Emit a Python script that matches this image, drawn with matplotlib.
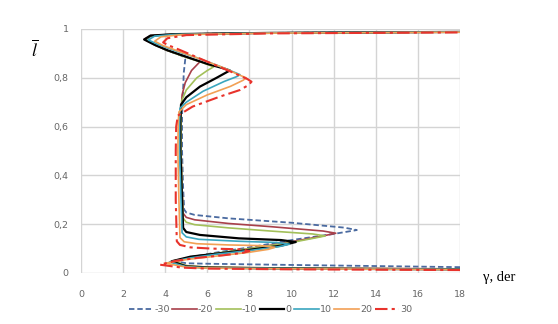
import matplotlib
matplotlib.use("Agg")
import matplotlib.pyplot as plt

# ---- data (gamma, l-bar) traced bottom -> top for each angle ----
labels = ["-30", "-20", "-10", "0", "10", "20", "30"]

g_m30 = [18, 10, 6, 5, 4.5, 5.2, 6.5, 8, 10, 12, 13.1, 12.5, 10, 7, 5.4, 5.0, 4.9, 4.85, 4.8, 4.8, 4.85, 4.88, 4.95, 4.8, 4.1, 3.5, 3.1, 3.35, 4.5, 9, 18]
l_m30 = [0.024, 0.033, 0.038, 0.04, 0.048, 0.065, 0.085, 0.105, 0.135, 0.16, 0.176, 0.186, 0.206, 0.224, 0.238, 0.248, 0.26, 0.35, 0.5, 0.65, 0.75, 0.82, 0.875, 0.89, 0.912, 0.935, 0.957, 0.973, 0.979, 0.984, 0.988]

g_m20 = [18, 10, 6, 5, 4.35, 5.2, 6.5, 8, 10, 11.5, 12.1, 11.5, 9, 7, 5.4, 5.0, 4.85, 4.8, 4.75, 4.75, 4.8, 4.95, 5.25, 5.65, 5.2, 4.1, 3.5, 3.0, 3.3, 4.5, 9, 18]
l_m20 = [0.017, 0.02, 0.024, 0.03, 0.045, 0.062, 0.08, 0.1, 0.128, 0.152, 0.163, 0.172, 0.19, 0.203, 0.218, 0.228, 0.245, 0.35, 0.5, 0.65, 0.73, 0.78, 0.83, 0.866, 0.88, 0.912, 0.935, 0.958, 0.973, 0.979, 0.984, 0.988]

g_m10 = [18, 10, 6, 5, 4.4, 5.2, 6.5, 8, 10, 11.2, 11.6, 11, 9, 7, 5.4, 5.0, 4.85, 4.8, 4.75, 4.75, 4.8, 5.0, 5.5, 6.0, 6.3, 5.65, 4.95, 4.1, 3.5, 3.05, 3.3, 4.5, 9, 18]
l_m10 = [0.016, 0.02, 0.024, 0.03, 0.05, 0.065, 0.082, 0.1, 0.125, 0.145, 0.152, 0.16, 0.172, 0.185, 0.198, 0.208, 0.225, 0.35, 0.5, 0.65, 0.71, 0.75, 0.8, 0.83, 0.845, 0.866, 0.885, 0.912, 0.935, 0.957, 0.972, 0.979, 0.984, 0.988]

g_0 = [18, 10, 6, 5, 4.3, 5.2, 6.5, 8, 9.5, 10.2, 9.5, 7.5, 5.65, 5.0, 4.85, 4.8, 4.72, 4.72, 4.75, 5.0, 5.65, 6.44, 6.9, 7.07, 6.8, 6.0, 5.2, 4.1, 3.5, 3.0, 3.3, 4.5, 9, 18]
l_0 = [0.015, 0.018, 0.022, 0.027, 0.048, 0.067, 0.08, 0.095, 0.112, 0.127, 0.135, 0.142, 0.156, 0.168, 0.185, 0.3, 0.5, 0.62, 0.69, 0.72, 0.764, 0.8, 0.822, 0.83, 0.838, 0.857, 0.88, 0.913, 0.935, 0.957, 0.973, 0.979, 0.984, 0.988]

g_10 = [18, 10, 6, 5, 4.2, 5.2, 6.5, 8, 9.4, 9.9, 9.3, 7.5, 5.6, 5.0, 4.8, 4.75, 4.68, 4.68, 4.7, 5.0, 5.8, 6.8, 7.4, 7.55, 7.3, 6.5, 5.5, 4.5, 3.7, 3.2, 3.5, 4.5, 9, 18]
l_10 = [0.015, 0.018, 0.021, 0.026, 0.045, 0.062, 0.078, 0.092, 0.108, 0.118, 0.125, 0.13, 0.138, 0.148, 0.165, 0.3, 0.5, 0.62, 0.675, 0.7, 0.745, 0.785, 0.805, 0.813, 0.822, 0.85, 0.882, 0.91, 0.935, 0.955, 0.971, 0.978, 0.984, 0.988]

g_20 = [18, 10, 6, 5, 4.0, 5, 6.5, 8, 8.9, 9.2, 8.6, 7, 5.5, 4.9, 4.7, 4.65, 4.6, 4.62, 4.65, 5.0, 6.0, 7.1, 7.7, 7.85, 7.5, 6.8, 5.7, 4.6, 3.9, 3.5, 3.8, 4.8, 9, 18]
l_20 = [0.014, 0.017, 0.02, 0.024, 0.04, 0.055, 0.07, 0.085, 0.097, 0.105, 0.112, 0.115, 0.12, 0.128, 0.145, 0.3, 0.5, 0.62, 0.66, 0.69, 0.73, 0.765, 0.79, 0.8, 0.812, 0.84, 0.876, 0.91, 0.932, 0.95, 0.968, 0.977, 0.983, 0.987]

g_30 = [18, 10, 6, 4.8, 3.75, 4.5, 5.5, 6.8, 7.7, 8.0, 7.6, 6.2, 5.2, 4.7, 4.55, 4.5, 4.5, 4.52, 4.6, 5.3, 6.6, 7.55, 7.95, 8.1, 7.9, 7.2, 6.0, 4.7, 4.1, 3.9, 4.1, 5, 9, 18]
l_30 = [0.012, 0.015, 0.018, 0.022, 0.034, 0.05, 0.062, 0.073, 0.083, 0.09, 0.097, 0.1, 0.105, 0.115, 0.13, 0.3, 0.5, 0.6, 0.645, 0.682, 0.723, 0.75, 0.77, 0.784, 0.795, 0.822, 0.866, 0.914, 0.935, 0.945, 0.962, 0.975, 0.982, 0.986]

x_ticks = [0, 2, 4, 6, 8, 10, 12, 14, 16, 18]
y_ticks = [0, 0.2, 0.4, 0.6, 0.8, 1.0]
y_ticklabels = ["0", "0,2", "0,4", "0,6", "0,8", "1"]

series = [(g_m30, l_m30), (g_m20, l_m20), (g_m10, l_m10), (g_0, l_0),
          (g_10, l_10), (g_20, l_20), (g_30, l_30)]
colors = ["#4a6aa0", "#a8404a", "#a3c05a", "#000000", "#3aa6bf", "#f2a055", "#e8332c"]
styles = [(0, (3, 1.6)), "-", "-", "-", "-", "-", (0, (6, 2, 1.5, 2))]
widths = [1.3, 1.2, 1.2, 1.6, 1.2, 1.2, 1.5]

plt.rcParams["mathtext.fontset"] = "stix"

fig = plt.figure(figsize=(5.58, 3.24), dpi=100)
ax = fig.add_axes([81 / 558, 1 - 273 / 324, (460 - 81) / 558, (273 - 29) / 324])

for (g, l), lab, c, ls, lw in zip(series, labels, colors, styles, widths):
    ax.plot(g, l, color=c, linestyle=ls, linewidth=lw, label=lab)

ax.set_xlim(0, 18)
ax.set_ylim(0, 1)
ax.set_xticks(x_ticks)
ax.set_xticklabels([str(v) for v in x_ticks])
ax.set_yticks(y_ticks)
ax.set_yticklabels(y_ticklabels)
ax.grid(True, color="#d4d4d4", linewidth=1.0)
ax.set_axisbelow(True)
for s in ax.spines.values():
    s.set_visible(False)
ax.tick_params(axis="both", length=0, labelsize=6.8, colors="#666666")
ax.tick_params(axis="x", pad=12)
ax.tick_params(axis="y", pad=9)

fig.text(35 / 558, 1 - 50 / 324, r"$\overline{l}$", fontsize=13, ha="center", va="center")
fig.text(483 / 558, 1 - 278 / 324, "γ, der", fontsize=10.5, family="Liberation Serif",
         ha="left", va="center")

leg = ax.legend(loc="upper center", bbox_to_anchor=(0.5, -0.115), ncol=7, frameon=False,
                fontsize=6.8, handlelength=2.6, handletextpad=0.1, columnspacing=0.3,
                borderaxespad=0)
for t in leg.get_texts():
    t.set_color("#666666")

fig.savefig("out.png", dpi=100)
